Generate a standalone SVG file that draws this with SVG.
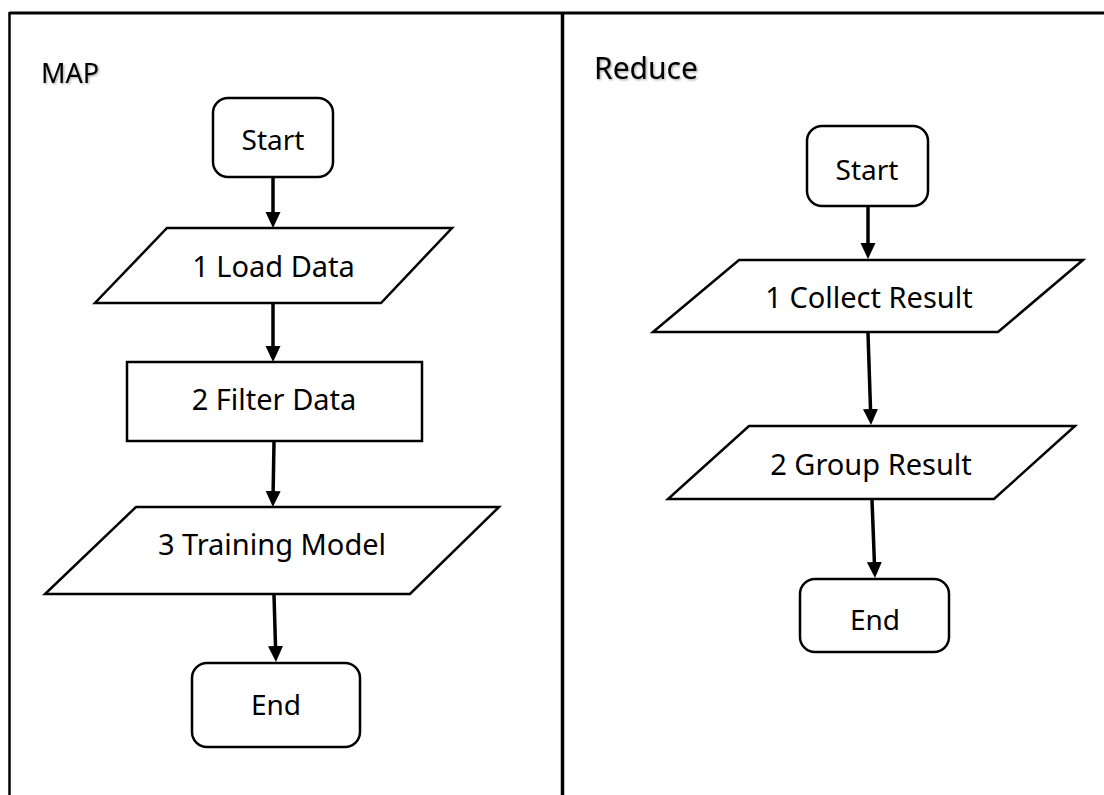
<svg xmlns="http://www.w3.org/2000/svg" width="1104" height="795" viewBox="0 0 1104 795">
  <style>
    .frame { stroke: #000; fill: none; }
    .node { fill: #fff; stroke: #000; stroke-width: 2.5; stroke-linejoin: miter; }
    .term { font-family: "Noto Sans", "Open Sans", sans-serif; font-size: 28px; fill: #000; text-anchor: middle; }
    .step { font-family: "Noto Sans", "Open Sans", sans-serif; font-size: 29px; fill: #000; text-anchor: middle; }
    .title { font-family: "Noto Sans", "Open Sans", sans-serif; fill: #000; }
    .conn line { stroke: #000; stroke-width: 3.5; marker-end: url(#arrow); }
  </style>
  <defs>
    <marker id="arrow" markerUnits="userSpaceOnUse" viewBox="0 0 16 16" markerWidth="16" markerHeight="16" refX="3" refY="8" orient="auto">
      <path d="M0,0.5 L16,8 L0,15.5 Z" fill="#000"/>
    </marker>
    <filter id="soft" x="-10%" y="-20%" width="130%" height="150%">
      <feDropShadow dx="1.2" dy="1.2" stdDeviation="1" flood-color="#000" flood-opacity="0.35"/>
    </filter>
  </defs>

  <rect width="1104" height="795" fill="#fff"/>

  <!-- outer frame and lane divider -->
  <g id="frame">
    <line class="frame" x1="9.5" y1="13" x2="1104" y2="13" stroke-width="3"/>
    <line class="frame" x1="9.5" y1="12" x2="9.5" y2="795" stroke-width="2.5"/>
    <line class="frame" x1="562.5" y1="12" x2="562.5" y2="795" stroke-width="3.5"/>
  </g>

  <!-- lane titles -->
  <g id="lane-map">
    <text class="title" x="41" y="83" font-size="27" filter="url(#soft)">MAP</text>
  </g>
  <g id="lane-reduce">
    <text class="title" x="594" y="79" font-size="30" filter="url(#soft)">Reduce</text>
  </g>

  <!-- MAP lane -->
  <g id="map-start">
    <rect class="node" x="213" y="98" width="120" height="79" rx="15"/>
    <text class="term" x="273" y="150">Start</text>
  </g>
  <g id="map-load">
    <polygon class="node" points="167,228 452,228 381,303 95,303"/>
    <text class="step" x="273.5" y="277">1 Load Data</text>
  </g>
  <g id="map-filter">
    <rect class="node" x="127" y="362" width="295" height="79"/>
    <text class="step" x="274" y="410">2 Filter Data</text>
  </g>
  <g id="map-train">
    <polygon class="node" points="136,507 499,507 410,594 45,594"/>
    <text class="step" x="272" y="555">3 Training Model</text>
  </g>
  <g id="map-end">
    <rect class="node" x="192" y="663" width="168" height="84" rx="15"/>
    <text class="term" x="276" y="715">End</text>
  </g>

  <!-- Reduce lane -->
  <g id="reduce-start">
    <rect class="node" x="807" y="126" width="121" height="80" rx="15"/>
    <text class="term" x="867" y="180">Start</text>
  </g>
  <g id="reduce-collect">
    <polygon class="node" points="739,260 1083,260 998,332 653,332"/>
    <text class="step" x="869" y="308">1 Collect Result</text>
  </g>
  <g id="reduce-group">
    <polygon class="node" points="749,426 1075,426 994,499 668,499"/>
    <text class="step" x="871" y="475">2 Group Result</text>
  </g>
  <g id="reduce-end">
    <rect class="node" x="800" y="579" width="149" height="73" rx="15"/>
    <text class="term" x="875" y="630">End</text>
  </g>

  <!-- connectors -->
  <g id="connectors" class="conn">
    <line x1="273" y1="178" x2="273" y2="215"/>
    <line x1="273" y1="304" x2="273" y2="349"/>
    <line x1="274" y1="442" x2="273.1" y2="494"/>
    <line x1="274" y1="595" x2="275.6" y2="649"/>
    <line x1="868" y1="207" x2="868" y2="246"/>
    <line x1="868" y1="333" x2="870.6" y2="412"/>
    <line x1="872" y1="500" x2="874.5" y2="565"/>
  </g>
</svg>
